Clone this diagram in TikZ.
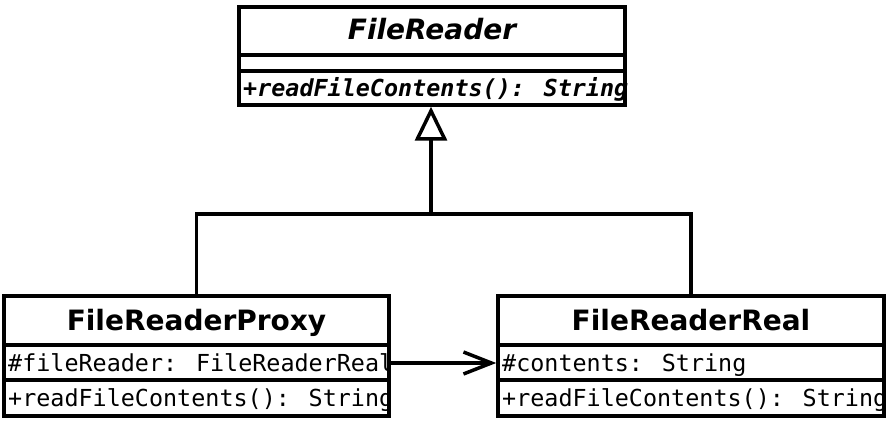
\documentclass[tikz,border=0pt]{standalone}
\usepackage{fontspec}
\setmainfont{DejaVu Sans}
\newfontfamily\umlmono{DejaVu Sans Mono}
\usetikzlibrary{arrows.meta}
\tikzset{
  classbox/.style={draw, line width=3.5pt, rectangle, inner sep=0pt},
  sepline/.style={line width=3.5pt},
  titletext/.style={anchor=base, inner sep=0pt, font=\fontsize{28}{30}\selectfont\bfseries},
  membertext/.style={anchor=base west, inner sep=0pt, font=\fontsize{23.4}{26}\selectfont\umlmono},
  conn/.style={line width=3.5pt},
}
\begin{document}
\begin{tikzpicture}[x=1pt,y=-1pt]
\useasboundingbox (0,0) rectangle (886,425);
% top class
\node[classbox, minimum width=386pt, minimum height=98pt] (fr) at (432,56) {};
\draw[sepline] (239,55) -- (625,55);
\draw[sepline] (239,71) -- (625,71);
\node[titletext, font=\fontsize{28}{30}\selectfont\bfseries\itshape] (frt) at (432,40) {FileReader};
\node[membertext, font=\fontsize{23.4}{26}\selectfont\umlmono\bfseries\itshape] (frm) at (243,97) {+readFileContents(): String};
% proxy
\node[classbox, minimum width=385pt, minimum height=120pt] (px) at (196.5,356) {};
\draw[sepline] (4,345) -- (389,345);
\draw[sepline] (4,380) -- (389,380);
\node[titletext] (pxt) at (196.5,330) {FileReaderProxy};
\node[membertext] (pxa) at (8,371) {\#fileReader: FileReaderReal};
\node[membertext] (pxm) at (8,406) {+readFileContents(): String};
% real
\node[classbox, minimum width=386pt, minimum height=120pt] (rl) at (691,356) {};
\draw[sepline] (498,345) -- (884,345);
\draw[sepline] (498,380) -- (884,380);
\node[titletext] (rlt) at (691,330) {FileReaderReal};
\node[membertext] (rla) at (502,371) {\#contents: String};
\node[membertext] (rlm) at (502,406) {+readFileContents(): String};
% connectors
\coordinate (j) at (431,214);
\draw[conn, -{Triangle[open, length=34pt, width=32pt, line width=3.5pt]}] (j) -- (fr.south -| j);
\draw[conn] (px.north) |- (j) -| (rl.north);
\draw[conn, -{Straight Barb[length=28pt, width=22pt, line width=3.5pt]}] (px.east |- 0,363) -- (rl.west |- 0,363);
\end{tikzpicture}
\end{document}
